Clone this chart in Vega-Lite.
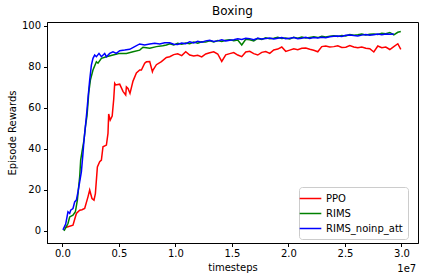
{
"$schema": "https://vega.github.io/schema/vega-lite/v6.json",
"width": 371, "height": 221,
"autosize": {"type": "none"},
"padding": {"left": 47, "top": 22, "right": 6, "bottom": 37},
"title": {"text": "Boxing", "fontSize": 12, "fontWeight": "normal", "font": "DejaVu Sans", "color": "black", "offset": 3},
"config": {
  "font": "DejaVu Sans",
  "view": {"stroke": "black", "strokeWidth": 1},
  "axis": {"domainColor": "black", "tickColor": "black", "labelColor": "black", "titleColor": "black", "labelFontSize": 10, "titleFontSize": 10, "titleFontWeight": "normal", "grid": false, "tickSize": 3.5, "labelFont": "DejaVu Sans", "titleFont": "DejaVu Sans"}
},
"layer": [
{
"data": {"values": [
{"series":"PPO","timesteps":204000,"reward":1.5},
{"series":"PPO","timesteps":496000,"reward":2.0},
{"series":"PPO","timesteps":938000,"reward":2.8},
{"series":"PPO","timesteps":1239000,"reward":8.5},
{"series":"PPO","timesteps":1531000,"reward":10.1},
{"series":"PPO","timesteps":1735000,"reward":10.3},
{"series":"PPO","timesteps":1973000,"reward":10.9},
{"series":"PPO","timesteps":2265000,"reward":16.6},
{"series":"PPO","timesteps":2416000,"reward":19.9},
{"series":"PPO","timesteps":2619000,"reward":15.8},
{"series":"PPO","timesteps":2797000,"reward":15.0},
{"series":"PPO","timesteps":2920000,"reward":18.2},
{"series":"PPO","timesteps":3097000,"reward":31.2},
{"series":"PPO","timesteps":3301000,"reward":33.7},
{"series":"PPO","timesteps":3451000,"reward":34.5},
{"series":"PPO","timesteps":3593000,"reward":41.0},
{"series":"PPO","timesteps":3894000,"reward":41.8},
{"series":"PPO","timesteps":4035000,"reward":47.5},
{"series":"PPO","timesteps":4097000,"reward":57.0},
{"series":"PPO","timesteps":4230000,"reward":54.0},
{"series":"PPO","timesteps":4407000,"reward":56.0},
{"series":"PPO","timesteps":4540000,"reward":64.0},
{"series":"PPO","timesteps":4628000,"reward":71.9},
{"series":"PPO","timesteps":4717000,"reward":71.1},
{"series":"PPO","timesteps":5071000,"reward":71.5},
{"series":"PPO","timesteps":5363000,"reward":68.0},
{"series":"PPO","timesteps":5602000,"reward":66.2},
{"series":"PPO","timesteps":5664000,"reward":70.2},
{"series":"PPO","timesteps":5805000,"reward":69.4},
{"series":"PPO","timesteps":5982000,"reward":67.0},
{"series":"PPO","timesteps":6248000,"reward":73.0},
{"series":"PPO","timesteps":6549000,"reward":77.0},
{"series":"PPO","timesteps":6841000,"reward":78.4},
{"series":"PPO","timesteps":6991000,"reward":78.4},
{"series":"PPO","timesteps":7283000,"reward":81.7},
{"series":"PPO","timesteps":7434000,"reward":82.4},
{"series":"PPO","timesteps":7726000,"reward":82.5},
{"series":"PPO","timesteps":7965000,"reward":77.6},
{"series":"PPO","timesteps":8018000,"reward":78.4},
{"series":"PPO","timesteps":8319000,"reward":81.0},
{"series":"PPO","timesteps":8761000,"reward":82.5},
{"series":"PPO","timesteps":9204000,"reward":84.5},
{"series":"PPO","timesteps":9496000,"reward":84.9},
{"series":"PPO","timesteps":9850000,"reward":85.9},
{"series":"PPO","timesteps":10204000,"reward":86.3},
{"series":"PPO","timesteps":10558000,"reward":85.4},
{"series":"PPO","timesteps":10912000,"reward":87.3},
{"series":"PPO","timesteps":11266000,"reward":85.7},
{"series":"PPO","timesteps":11620000,"reward":85.2},
{"series":"PPO","timesteps":11974000,"reward":85.6},
{"series":"PPO","timesteps":12328000,"reward":84.8},
{"series":"PPO","timesteps":12682000,"reward":86.2},
{"series":"PPO","timesteps":13036000,"reward":86.8},
{"series":"PPO","timesteps":13390000,"reward":87.3},
{"series":"PPO","timesteps":13744000,"reward":86.2},
{"series":"PPO","timesteps":14098000,"reward":82.6},
{"series":"PPO","timesteps":14452000,"reward":85.8},
{"series":"PPO","timesteps":14806000,"reward":86.4},
{"series":"PPO","timesteps":15160000,"reward":86.9},
{"series":"PPO","timesteps":15514000,"reward":85.7},
{"series":"PPO","timesteps":15868000,"reward":84.9},
{"series":"PPO","timesteps":16222000,"reward":87.2},
{"series":"PPO","timesteps":16576000,"reward":87.5},
{"series":"PPO","timesteps":16930000,"reward":86.4},
{"series":"PPO","timesteps":17284000,"reward":85.7},
{"series":"PPO","timesteps":17638000,"reward":87.0},
{"series":"PPO","timesteps":17992000,"reward":87.4},
{"series":"PPO","timesteps":18346000,"reward":86.5},
{"series":"PPO","timesteps":18700000,"reward":88.2},
{"series":"PPO","timesteps":19054000,"reward":88.6},
{"series":"PPO","timesteps":19408000,"reward":89.6},
{"series":"PPO","timesteps":19762000,"reward":87.5},
{"series":"PPO","timesteps":20116000,"reward":88.1},
{"series":"PPO","timesteps":20470000,"reward":88.7},
{"series":"PPO","timesteps":20824000,"reward":88.3},
{"series":"PPO","timesteps":21178000,"reward":89.0},
{"series":"PPO","timesteps":21532000,"reward":89.1},
{"series":"PPO","timesteps":21886000,"reward":88.5},
{"series":"PPO","timesteps":22240000,"reward":88.0},
{"series":"PPO","timesteps":22594000,"reward":87.3},
{"series":"PPO","timesteps":22948000,"reward":89.8},
{"series":"PPO","timesteps":23302000,"reward":90.1},
{"series":"PPO","timesteps":23656000,"reward":89.6},
{"series":"PPO","timesteps":24010000,"reward":89.8},
{"series":"PPO","timesteps":24364000,"reward":90.2},
{"series":"PPO","timesteps":24718000,"reward":89.4},
{"series":"PPO","timesteps":25072000,"reward":89.5},
{"series":"PPO","timesteps":25426000,"reward":90.3},
{"series":"PPO","timesteps":25780000,"reward":89.6},
{"series":"PPO","timesteps":26134000,"reward":89.2},
{"series":"PPO","timesteps":26488000,"reward":89.6},
{"series":"PPO","timesteps":26842000,"reward":89.0},
{"series":"PPO","timesteps":27196000,"reward":88.8},
{"series":"PPO","timesteps":27550000,"reward":87.2},
{"series":"PPO","timesteps":27904000,"reward":90.1},
{"series":"PPO","timesteps":28258000,"reward":89.3},
{"series":"PPO","timesteps":28612000,"reward":89.6},
{"series":"PPO","timesteps":28966000,"reward":88.4},
{"series":"PPO","timesteps":29320000,"reward":89.8},
{"series":"PPO","timesteps":29674000,"reward":91.2},
{"series":"PPO","timesteps":29938000,"reward":88.5},
{"series":"RIMS","timesteps":142000,"reward":0.0},
{"series":"RIMS","timesteps":292000,"reward":1.5},
{"series":"RIMS","timesteps":496000,"reward":3.6},
{"series":"RIMS","timesteps":646000,"reward":6.8},
{"series":"RIMS","timesteps":938000,"reward":7.7},
{"series":"RIMS","timesteps":1150000,"reward":9.3},
{"series":"RIMS","timesteps":1327000,"reward":15.0},
{"series":"RIMS","timesteps":1442000,"reward":21.5},
{"series":"RIMS","timesteps":1531000,"reward":26.3},
{"series":"RIMS","timesteps":1619000,"reward":34.5},
{"series":"RIMS","timesteps":1735000,"reward":38.5},
{"series":"RIMS","timesteps":1912000,"reward":44.2},
{"series":"RIMS","timesteps":2035000,"reward":50.7},
{"series":"RIMS","timesteps":2177000,"reward":56.0},
{"series":"RIMS","timesteps":2265000,"reward":62.1},
{"series":"RIMS","timesteps":2327000,"reward":67.0},
{"series":"RIMS","timesteps":2478000,"reward":73.5},
{"series":"RIMS","timesteps":2708000,"reward":78.4},
{"series":"RIMS","timesteps":3009000,"reward":82.4},
{"series":"RIMS","timesteps":3150000,"reward":81.7},
{"series":"RIMS","timesteps":3451000,"reward":84.1},
{"series":"RIMS","timesteps":3894000,"reward":84.9},
{"series":"RIMS","timesteps":4478000,"reward":85.7},
{"series":"RIMS","timesteps":5071000,"reward":86.5},
{"series":"RIMS","timesteps":5664000,"reward":86.5},
{"series":"RIMS","timesteps":6248000,"reward":87.3},
{"series":"RIMS","timesteps":6841000,"reward":88.1},
{"series":"RIMS","timesteps":7133000,"reward":89.5},
{"series":"RIMS","timesteps":7726000,"reward":89.0},
{"series":"RIMS","timesteps":8319000,"reward":89.8},
{"series":"RIMS","timesteps":8876000,"reward":90.2},
{"series":"RIMS","timesteps":9204000,"reward":90.6},
{"series":"RIMS","timesteps":9496000,"reward":91.2},
{"series":"RIMS","timesteps":9850000,"reward":90.6},
{"series":"RIMS","timesteps":10204000,"reward":91.4},
{"series":"RIMS","timesteps":10558000,"reward":91.0},
{"series":"RIMS","timesteps":10912000,"reward":91.6},
{"series":"RIMS","timesteps":11266000,"reward":91.2},
{"series":"RIMS","timesteps":11620000,"reward":92.0},
{"series":"RIMS","timesteps":11974000,"reward":91.5},
{"series":"RIMS","timesteps":12328000,"reward":92.2},
{"series":"RIMS","timesteps":12682000,"reward":92.0},
{"series":"RIMS","timesteps":13036000,"reward":92.6},
{"series":"RIMS","timesteps":13390000,"reward":92.1},
{"series":"RIMS","timesteps":13744000,"reward":92.8},
{"series":"RIMS","timesteps":14098000,"reward":92.3},
{"series":"RIMS","timesteps":14452000,"reward":92.9},
{"series":"RIMS","timesteps":14806000,"reward":93.2},
{"series":"RIMS","timesteps":15160000,"reward":92.7},
{"series":"RIMS","timesteps":15514000,"reward":93.0},
{"series":"RIMS","timesteps":15868000,"reward":90.6},
{"series":"RIMS","timesteps":16222000,"reward":93.4},
{"series":"RIMS","timesteps":16576000,"reward":93.1},
{"series":"RIMS","timesteps":16930000,"reward":92.6},
{"series":"RIMS","timesteps":17284000,"reward":93.8},
{"series":"RIMS","timesteps":17638000,"reward":93.3},
{"series":"RIMS","timesteps":17992000,"reward":94.1},
{"series":"RIMS","timesteps":18346000,"reward":93.6},
{"series":"RIMS","timesteps":18700000,"reward":93.9},
{"series":"RIMS","timesteps":19054000,"reward":94.4},
{"series":"RIMS","timesteps":19408000,"reward":93.8},
{"series":"RIMS","timesteps":19762000,"reward":94.0},
{"series":"RIMS","timesteps":20116000,"reward":93.5},
{"series":"RIMS","timesteps":20470000,"reward":94.3},
{"series":"RIMS","timesteps":20824000,"reward":93.9},
{"series":"RIMS","timesteps":21178000,"reward":94.5},
{"series":"RIMS","timesteps":21532000,"reward":94.0},
{"series":"RIMS","timesteps":21886000,"reward":94.3},
{"series":"RIMS","timesteps":22240000,"reward":94.6},
{"series":"RIMS","timesteps":22594000,"reward":94.2},
{"series":"RIMS","timesteps":22948000,"reward":94.8},
{"series":"RIMS","timesteps":23302000,"reward":94.5},
{"series":"RIMS","timesteps":23656000,"reward":94.9},
{"series":"RIMS","timesteps":24010000,"reward":95.1},
{"series":"RIMS","timesteps":24364000,"reward":94.8},
{"series":"RIMS","timesteps":24718000,"reward":95.2},
{"series":"RIMS","timesteps":25072000,"reward":95.0},
{"series":"RIMS","timesteps":25426000,"reward":95.7},
{"series":"RIMS","timesteps":25780000,"reward":95.4},
{"series":"RIMS","timesteps":26134000,"reward":95.6},
{"series":"RIMS","timesteps":26488000,"reward":95.9},
{"series":"RIMS","timesteps":26842000,"reward":95.5},
{"series":"RIMS","timesteps":27196000,"reward":95.8},
{"series":"RIMS","timesteps":27550000,"reward":96.0},
{"series":"RIMS","timesteps":27904000,"reward":95.7},
{"series":"RIMS","timesteps":28258000,"reward":96.3},
{"series":"RIMS","timesteps":28612000,"reward":96.1},
{"series":"RIMS","timesteps":28966000,"reward":96.7},
{"series":"RIMS","timesteps":29320000,"reward":95.5},
{"series":"RIMS","timesteps":29674000,"reward":96.8},
{"series":"RIMS","timesteps":29938000,"reward":97.2},
{"series":"RIMS_noinp_att","timesteps":53000,"reward":0.5},
{"series":"RIMS_noinp_att","timesteps":292000,"reward":3.3},
{"series":"RIMS_noinp_att","timesteps":496000,"reward":9.3},
{"series":"RIMS_noinp_att","timesteps":646000,"reward":8.5},
{"series":"RIMS_noinp_att","timesteps":735000,"reward":10.1},
{"series":"RIMS_noinp_att","timesteps":938000,"reward":10.9},
{"series":"RIMS_noinp_att","timesteps":1088000,"reward":14.1},
{"series":"RIMS_noinp_att","timesteps":1239000,"reward":15.0},
{"series":"RIMS_noinp_att","timesteps":1381000,"reward":19.0},
{"series":"RIMS_noinp_att","timesteps":1531000,"reward":23.9},
{"series":"RIMS_noinp_att","timesteps":1681000,"reward":28.8},
{"series":"RIMS_noinp_att","timesteps":1823000,"reward":37.8},
{"series":"RIMS_noinp_att","timesteps":1912000,"reward":44.2},
{"series":"RIMS_noinp_att","timesteps":2035000,"reward":50.7},
{"series":"RIMS_noinp_att","timesteps":2177000,"reward":58.9},
{"series":"RIMS_noinp_att","timesteps":2265000,"reward":64.5},
{"series":"RIMS_noinp_att","timesteps":2416000,"reward":73.5},
{"series":"RIMS_noinp_att","timesteps":2566000,"reward":80.8},
{"series":"RIMS_noinp_att","timesteps":2708000,"reward":84.1},
{"series":"RIMS_noinp_att","timesteps":2858000,"reward":85.7},
{"series":"RIMS_noinp_att","timesteps":3009000,"reward":84.9},
{"series":"RIMS_noinp_att","timesteps":3239000,"reward":86.5},
{"series":"RIMS_noinp_att","timesteps":3451000,"reward":84.9},
{"series":"RIMS_noinp_att","timesteps":3743000,"reward":86.5},
{"series":"RIMS_noinp_att","timesteps":3894000,"reward":84.9},
{"series":"RIMS_noinp_att","timesteps":4186000,"reward":86.5},
{"series":"RIMS_noinp_att","timesteps":4478000,"reward":87.3},
{"series":"RIMS_noinp_att","timesteps":4779000,"reward":86.5},
{"series":"RIMS_noinp_att","timesteps":5071000,"reward":87.8},
{"series":"RIMS_noinp_att","timesteps":5513000,"reward":88.1},
{"series":"RIMS_noinp_att","timesteps":5956000,"reward":88.5},
{"series":"RIMS_noinp_att","timesteps":6398000,"reward":89.8},
{"series":"RIMS_noinp_att","timesteps":6841000,"reward":91.1},
{"series":"RIMS_noinp_att","timesteps":7283000,"reward":90.6},
{"series":"RIMS_noinp_att","timesteps":7726000,"reward":91.1},
{"series":"RIMS_noinp_att","timesteps":8168000,"reward":91.4},
{"series":"RIMS_noinp_att","timesteps":8611000,"reward":91.1},
{"series":"RIMS_noinp_att","timesteps":9053000,"reward":91.7},
{"series":"RIMS_noinp_att","timesteps":9496000,"reward":91.7},
{"series":"RIMS_noinp_att","timesteps":9850000,"reward":91.0},
{"series":"RIMS_noinp_att","timesteps":10204000,"reward":90.8},
{"series":"RIMS_noinp_att","timesteps":10558000,"reward":91.5},
{"series":"RIMS_noinp_att","timesteps":10912000,"reward":91.2},
{"series":"RIMS_noinp_att","timesteps":11266000,"reward":92.2},
{"series":"RIMS_noinp_att","timesteps":11620000,"reward":91.6},
{"series":"RIMS_noinp_att","timesteps":11974000,"reward":92.4},
{"series":"RIMS_noinp_att","timesteps":12328000,"reward":92.0},
{"series":"RIMS_noinp_att","timesteps":12682000,"reward":92.6},
{"series":"RIMS_noinp_att","timesteps":13036000,"reward":92.9},
{"series":"RIMS_noinp_att","timesteps":13390000,"reward":92.3},
{"series":"RIMS_noinp_att","timesteps":13744000,"reward":92.6},
{"series":"RIMS_noinp_att","timesteps":14098000,"reward":93.1},
{"series":"RIMS_noinp_att","timesteps":14452000,"reward":92.5},
{"series":"RIMS_noinp_att","timesteps":14806000,"reward":92.9},
{"series":"RIMS_noinp_att","timesteps":15160000,"reward":93.2},
{"series":"RIMS_noinp_att","timesteps":15514000,"reward":93.6},
{"series":"RIMS_noinp_att","timesteps":15868000,"reward":93.3},
{"series":"RIMS_noinp_att","timesteps":16222000,"reward":93.9},
{"series":"RIMS_noinp_att","timesteps":16576000,"reward":93.7},
{"series":"RIMS_noinp_att","timesteps":16930000,"reward":93.2},
{"series":"RIMS_noinp_att","timesteps":17284000,"reward":93.9},
{"series":"RIMS_noinp_att","timesteps":17638000,"reward":93.5},
{"series":"RIMS_noinp_att","timesteps":17992000,"reward":93.7},
{"series":"RIMS_noinp_att","timesteps":18346000,"reward":94.0},
{"series":"RIMS_noinp_att","timesteps":18700000,"reward":93.5},
{"series":"RIMS_noinp_att","timesteps":19054000,"reward":93.9},
{"series":"RIMS_noinp_att","timesteps":19408000,"reward":94.2},
{"series":"RIMS_noinp_att","timesteps":19762000,"reward":93.6},
{"series":"RIMS_noinp_att","timesteps":20116000,"reward":93.9},
{"series":"RIMS_noinp_att","timesteps":20470000,"reward":94.2},
{"series":"RIMS_noinp_att","timesteps":20824000,"reward":93.7},
{"series":"RIMS_noinp_att","timesteps":21178000,"reward":93.9},
{"series":"RIMS_noinp_att","timesteps":21532000,"reward":94.3},
{"series":"RIMS_noinp_att","timesteps":21886000,"reward":93.8},
{"series":"RIMS_noinp_att","timesteps":22240000,"reward":94.2},
{"series":"RIMS_noinp_att","timesteps":22594000,"reward":94.0},
{"series":"RIMS_noinp_att","timesteps":22948000,"reward":94.4},
{"series":"RIMS_noinp_att","timesteps":23302000,"reward":94.1},
{"series":"RIMS_noinp_att","timesteps":23656000,"reward":94.6},
{"series":"RIMS_noinp_att","timesteps":24010000,"reward":94.8},
{"series":"RIMS_noinp_att","timesteps":24364000,"reward":95.0},
{"series":"RIMS_noinp_att","timesteps":24718000,"reward":94.7},
{"series":"RIMS_noinp_att","timesteps":25072000,"reward":95.3},
{"series":"RIMS_noinp_att","timesteps":25426000,"reward":95.5},
{"series":"RIMS_noinp_att","timesteps":25780000,"reward":95.2},
{"series":"RIMS_noinp_att","timesteps":26134000,"reward":95.0},
{"series":"RIMS_noinp_att","timesteps":26488000,"reward":95.4},
{"series":"RIMS_noinp_att","timesteps":26842000,"reward":95.7},
{"series":"RIMS_noinp_att","timesteps":27196000,"reward":95.3},
{"series":"RIMS_noinp_att","timesteps":27550000,"reward":95.6},
{"series":"RIMS_noinp_att","timesteps":27904000,"reward":95.9},
{"series":"RIMS_noinp_att","timesteps":28258000,"reward":95.6},
{"series":"RIMS_noinp_att","timesteps":28612000,"reward":96.0},
{"series":"RIMS_noinp_att","timesteps":28966000,"reward":95.8},
{"series":"RIMS_noinp_att","timesteps":29320000,"reward":96.0}
]},
"mark": {"type": "line", "strokeWidth": 1.5, "clip": true},
"encoding": {
  "x": {"field": "timesteps", "type": "quantitative", "title": "timesteps",
        "scale": {"domain": [-1360000, 31460000], "nice": false, "zero": false},
        "axis": {"values": [0, 5000000, 10000000, 15000000, 20000000, 25000000, 30000000], "labelExpr": "format(datum.value / 10000000, '.1f')", "labelPadding": 2, "titlePadding": 4}},
  "y": {"field": "reward", "type": "quantitative", "title": "Episode Rewards",
        "scale": {"domain": [-5.9, 101.8], "nice": false, "zero": false},
        "axis": {"values": [0, 20, 40, 60, 80, 100], "labelPadding": 3, "titlePadding": 4}},
  "color": {"field": "series", "type": "nominal",
            "scale": {"domain": ["PPO", "RIMS", "RIMS_noinp_att"], "range": ["#ff0000", "#008000", "#0000ff"]},
            "legend": {"title": null, "orient": "none", "legendX": 252, "legendY": 165, "padding": 5, "strokeColor": "#cccccc", "fillColor": "white", "cornerRadius": 3, "symbolType": "M-2,0H2", "symbolSize": 117, "symbolStrokeWidth": 1.5, "labelFontSize": 10, "labelFont": "DejaVu Sans", "labelColor": "black", "labelOffset": 9, "rowPadding": 3}}
}
},
{
"data": {"values": [{"label": "1e7"}]},
"mark": {"type": "text", "align": "right", "baseline": "middle", "fontSize": 10, "font": "DejaVu Sans", "color": "black"},
"encoding": {
  "x": {"datum": 31300000, "type": "quantitative"},
  "y": {"datum": -18.7, "type": "quantitative"},
  "text": {"field": "label"}
}
}
]
}
